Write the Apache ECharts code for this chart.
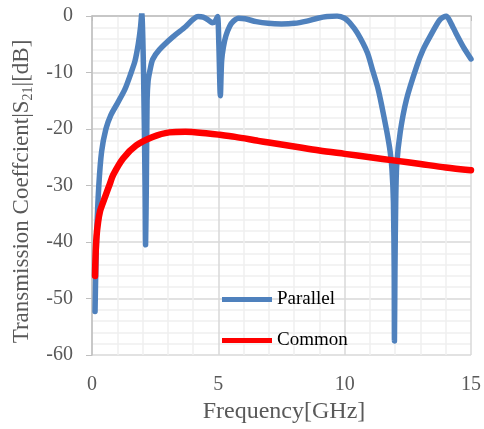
<!DOCTYPE html>
<html>
<head>
<meta charset="utf-8">
<style>
  html, body { margin: 0; padding: 0; background: #fff; }
  #chart { width: 484px; height: 429px; }
</style>
<script src="https://cdn.jsdelivr.net/npm/echarts@6/dist/echarts.min.js"></script>
</head>
<body>
<div id="chart"></div>
<script>
// Frequency sweep of |S21| for two connection layouts
const seriesNames = ['Parallel', 'Common'];

const parallelFreq = [0.12, 0.15, 0.19, 0.27, 0.38, 0.55, 0.75, 1.0, 1.3, 1.55, 1.7, 1.83, 1.92, 1.97,
  2.04, 2.1, 2.12, 2.15, 2.18, 2.22, 2.3, 2.4, 2.66, 3.2, 3.7, 4.0, 4.2, 4.4, 4.6, 4.75, 4.88, 4.97,
  5.02, 5.08, 5.13, 5.2, 5.3, 5.45, 5.6, 5.8, 6.06, 6.5, 6.97, 7.5, 8.0, 8.5, 8.93, 9.3, 9.7, 10.0,
  10.2, 10.5, 10.9, 11.1, 11.3, 11.45, 11.67, 11.8, 11.87, 11.93, 11.96, 11.97, 11.99, 12.02, 12.06,
  12.2, 12.45, 12.85, 13.1, 13.37, 13.76, 14.02, 14.2, 14.4, 14.7, 15.0];
const parallelDb = [-52.3, -45, -38, -30, -24, -20, -17.5, -15.5, -13, -10, -8, -5, -2, 0.5,
  -10, -30, -40.5, -30, -15, -11.5, -9.5, -7.7, -6, -3.7, -1.9, -0.6, -0.1, -0.2, -0.7, -1.2, -0.9, -0.1,
  -5, -14.1, -8, -5.5, -3.5, -1.8, -0.9, -0.4, -0.5, -1, -1.3, -1.4, -1.3, -0.9, -0.4, -0.1, 0, -0.4,
  -1.2, -3, -6.5, -9.5, -12.5, -15.5, -20.5, -24, -27, -33, -45, -57.5, -45, -33, -26.4,
  -20.5, -14.7, -8.9, -6, -3.7, -0.7, 0, -1.2, -3, -5.5, -7.6];

const commonFreq = [0.12, 0.14, 0.18, 0.24, 0.32, 0.42, 0.55, 0.7, 0.84, 1.23, 1.75, 2.4, 3.06, 3.7,
  4.6, 5.0, 5.67, 6.58, 7.0, 8.0, 9.0, 10.0, 11.0, 12.0, 13.0, 14.0, 15.0];
const commonDb = [-46, -42.5, -39, -36.5, -34.5, -33.2, -31.6, -29.8, -28.1, -25.2, -22.9, -21.4, -20.6, -20.5,
  -20.8, -21.0, -21.4, -22.1, -22.4, -23.1, -23.8, -24.4, -25.0, -25.6, -26.2, -26.8, -27.3];

const xTicks = [0, 5, 10, 15];
const yTicks = [-60, -50, -40, -30, -20, -10, 0];

const pairs = (xs, ys) => xs.map((x, i) => [x, ys[i]]);

const serif = '"Liberation Serif", "Times New Roman", serif';
const labelColor = '#595959';

const chart = echarts.init(document.getElementById('chart'), null, { renderer: 'canvas' });
chart.setOption({
  animation: false,
  backgroundColor: '#ffffff',
  grid: { left: 92, right: 9, top: 16, bottom: 70, containLabel: false },
  legend: {
    orient: 'vertical',
    left: 217,
    top: 285,
    padding: 5,
    icon: 'rect',
    itemWidth: 50,
    itemHeight: 5,
    itemGap: 22,
    data: seriesNames,
    textStyle: { fontFamily: serif, fontSize: 19, color: '#000000' }
  },
  xAxis: {
    type: 'value',
    min: xTicks[0],
    max: xTicks[xTicks.length - 1],
    interval: 5,
    name: 'Frequency[GHz]',
    nameLocation: 'middle',
    nameGap: 45,
    nameTextStyle: { fontFamily: serif, fontSize: 24, color: labelColor, padding: [0, 0, 0, 5] },
    axisLine: { show: true, lineStyle: { color: '#bfbfbf', width: 1.5 } },
    axisTick: { show: true, length: 5, lineStyle: { color: '#bfbfbf' } },
    axisLabel: { margin: 20, fontFamily: serif, fontSize: 20, color: labelColor },
    splitLine: { show: true, lineStyle: { color: '#d9d9d9', width: 1.5 } },
    minorTick: { show: false, splitNumber: 5 },
    minorSplitLine: { show: true, lineStyle: { color: '#efefef', width: 1.5 } }
  },
  yAxis: {
    type: 'value',
    min: yTicks[0],
    max: yTicks[yTicks.length - 1],
    interval: 10,
    name: '{t|Transmission Coeffcient|S}{s|21}{t||[dB]}',
    nameLocation: 'middle',
    nameGap: 47,
    nameTextStyle: {
      fontFamily: serif, fontSize: 23, color: labelColor, padding: [0, 12, 0, 0],
      rich: {
        t: { fontFamily: serif, fontSize: 23, color: labelColor, lineHeight: 27 },
        s: { fontFamily: serif, fontSize: 14, color: labelColor, lineHeight: 27, padding: [12, 0, 0, 0] }
      }
    },
    axisLine: { show: true, lineStyle: { color: '#bfbfbf', width: 1.5 } },
    axisTick: { show: true, length: 6, lineStyle: { color: '#bfbfbf' } },
    axisLabel: { margin: 19, fontFamily: serif, fontSize: 20, color: labelColor },
    splitLine: { show: true, lineStyle: { color: '#d9d9d9', width: 1.5 } },
    minorTick: { show: false, splitNumber: 5 },
    minorSplitLine: { show: true, lineStyle: { color: '#efefef', width: 1.5 } }
  },
  series: [
    {
      name: seriesNames[0],
      type: 'line',
      data: pairs(parallelFreq, parallelDb),
      smooth: 0.25,
      showSymbol: false,
      symbol: 'none',
      clip: true,
      lineStyle: { color: '#4f81bd', width: 5.5, join: 'round', cap: 'round' },
      itemStyle: { color: '#4f81bd' },
      z: 3
    },
    {
      name: seriesNames[1],
      type: 'line',
      data: pairs(commonFreq, commonDb),
      smooth: 0.3,
      showSymbol: false,
      symbol: 'none',
      clip: true,
      lineStyle: { color: '#ff0000', width: 6.5, join: 'round', cap: 'round' },
      itemStyle: { color: '#ff0000' },
      z: 4
    }
  ]
});
</script>
</body>
</html>
